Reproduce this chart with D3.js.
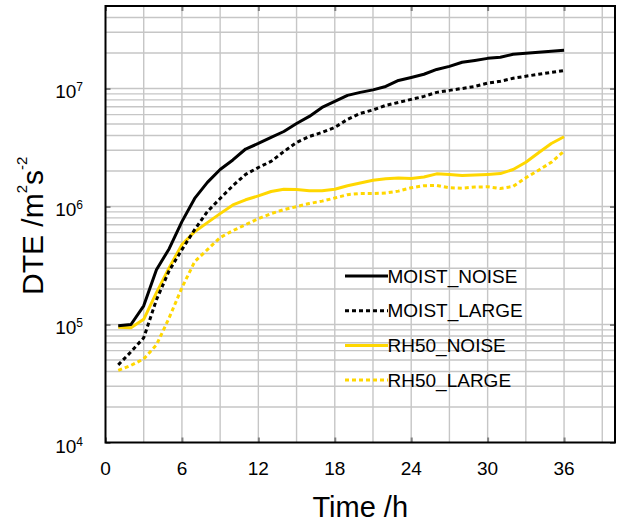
<!DOCTYPE html>
<html lang="en">
<head>
<meta charset="UTF-8">
<title>DTE</title>
<script src="https://d3js.org/d3.v7.min.js"></script>
<style>
    body { margin: 0; background: #ffffff; }
    svg { display: block; font-family: "Liberation Sans", Arial, Helvetica, sans-serif; }
    .grid line { stroke: #c6c6c6; stroke-width: 1.4; }
    .ticks line { stroke: #808080; stroke-width: 2; }
    .ticks .domain { display: none; }
</style>
</head>
<body>
<svg width="618" height="522"></svg>
<script>
var hours = [1, 2, 3, 4, 5, 6, 7, 8, 9, 10, 11, 12, 13, 14, 15, 16, 17, 18,
             19, 20, 21, 22, 23, 24, 25, 26, 27, 28, 29, 30, 31, 32, 33, 34, 35, 36];

var moistNoise = [9.75e4, 1.0e5, 1.44e5, 2.91e5, 4.39e5, 7.44e5, 1.17e6, 1.60e6, 2.06e6, 2.48e6,
                  3.07e6, 3.42e6, 3.85e6, 4.32e6, 5.05e6, 5.80e6, 6.91e6, 7.77e6, 8.74e6, 9.27e6,
                  9.73e6, 1.04e7, 1.17e7, 1.24e7, 1.32e7, 1.45e7, 1.54e7, 1.67e7, 1.73e7, 1.80e7,
                  1.84e7, 1.95e7, 1.99e7, 2.03e7, 2.07e7, 2.11e7];
var moistLarge = [4.55e4, 5.87e4, 7.71e4, 1.62e5, 2.86e5, 4.31e5, 6.37e5, 9.05e5, 1.17e6, 1.50e6,
                  1.87e6, 2.14e6, 2.41e6, 2.92e6, 3.49e6, 3.92e6, 4.24e6, 4.68e6, 5.47e6, 6.15e6,
                  6.58e6, 7.19e6, 7.62e6, 8.08e6, 8.57e6, 9.27e6, 9.64e6, 1.00e7, 1.04e7, 1.11e7,
                  1.15e7, 1.22e7, 1.27e7, 1.32e7, 1.37e7, 1.42e7];
var rh50Noise = [9.47e4, 9.38e4, 1.107e5, 1.86e5, 3.03e5, 4.75e5, 6.12e5, 7.30e5, 8.70e5, 1.03e6,
                 1.14e6, 1.23e6, 1.34e6, 1.40e6, 1.39e6, 1.36e6, 1.36e6, 1.40e6, 1.50e6, 1.58e6,
                 1.67e6, 1.72e6, 1.74e6, 1.73e6, 1.78e6, 1.89e6, 1.87e6, 1.83e6, 1.85e6, 1.87e6,
                 1.90e6, 2.06e6, 2.37e6, 2.85e6, 3.42e6, 3.90e6];
var rh50Large = [4.09e4, 4.50e4, 5.11e4, 6.72e4, 1.14e5, 2.05e5, 3.41e5, 4.31e5, 5.45e5, 6.24e5,
                 7.02e5, 7.89e5, 8.70e5, 9.41e5, 9.98e5, 1.06e6, 1.11e6, 1.18e6, 1.26e6, 1.29e6,
                 1.29e6, 1.30e6, 1.35e6, 1.44e6, 1.50e6, 1.51e6, 1.44e6, 1.43e6, 1.46e6, 1.47e6,
                 1.42e6, 1.48e6, 1.75e6, 2.03e6, 2.37e6, 2.94e6];

var xTicks = [0, 6, 12, 18, 24, 30, 36];
var xGrid = [3, 6, 9, 12, 15, 18, 21, 24, 27, 30, 33, 36, 39];
var yExponents = [4, 5, 6, 7];

var series = [
    { name: "RH50_LARGE", values: rh50Large, color: "#ffd700", dash: "4,3" },
    { name: "RH50_NOISE", values: rh50Noise, color: "#ffd700", dash: null },
    { name: "MOIST_LARGE", values: moistLarge, color: "#000000", dash: "4,3" },
    { name: "MOIST_NOISE", values: moistNoise, color: "#000000", dash: null }
];
var legendOrder = ["MOIST_NOISE", "MOIST_LARGE", "RH50_NOISE", "RH50_LARGE"];

var svg = d3.select("svg");
var margin = { top: 6, right: 3, bottom: 79.5, left: 105.5 };
var width = 618 - margin.left - margin.right;
var height = 522 - margin.top - margin.bottom;

var xScale = d3.scaleLinear().domain([0, 40]).range([0, width]);
var yScale = d3.scaleLog().domain([1e4, 5e7]).range([height, 0]);

var g = svg.append("g")
    .attr("transform", "translate(" + margin.left + "," + margin.top + ")");

// grid
g.append("g").attr("class", "grid").selectAll("line")
    .data(xGrid)
    .enter().append("line")
    .attr("x1", function (d) { return xScale(d); })
    .attr("x2", function (d) { return xScale(d); })
    .attr("y1", 0)
    .attr("y2", height);

g.append("g").attr("class", "grid").selectAll("line")
    .data(yScale.ticks().filter(function (d) { return d > 1e4 && d < 5e7; }))
    .enter().append("line")
    .attr("x1", 0)
    .attr("x2", width)
    .attr("y1", function (d) { return yScale(d); })
    .attr("y2", function (d) { return yScale(d); });

// curves
var line = d3.line()
    .x(function (d, i) { return xScale(hours[i]); })
    .y(function (d) { return yScale(d); });

series.forEach(function (s) {
    g.append("path")
        .attr("d", line(s.values))
        .attr("fill", "none")
        .attr("stroke", s.color)
        .attr("stroke-width", 3)
        .attr("stroke-linejoin", "round")
        .attr("stroke-dasharray", s.dash);
});

// inner tick marks
var majors = yExponents.map(function (e) { return Math.pow(10, e); });
g.append("g").attr("class", "ticks")
    .call(d3.axisLeft(yScale).tickValues(majors).tickSizeInner(-5).tickSizeOuter(0).tickFormat(""));
g.append("g").attr("class", "ticks")
    .attr("transform", "translate(" + width + ",0)")
    .call(d3.axisRight(yScale).tickValues(majors).tickSizeInner(-5).tickSizeOuter(0).tickFormat(""));
g.append("g").attr("class", "ticks")
    .attr("transform", "translate(0," + height + ")")
    .call(d3.axisBottom(xScale).tickValues(xTicks).tickSizeInner(-5).tickSizeOuter(0).tickFormat(""));
g.append("g").attr("class", "ticks")
    .call(d3.axisTop(xScale).tickValues(xTicks).tickSizeInner(-5).tickSizeOuter(0).tickFormat(""));

// frame
g.append("rect")
    .attr("width", width)
    .attr("height", height)
    .attr("fill", "none")
    .attr("stroke", "#000000")
    .attr("stroke-width", 2);

// tick labels
var yLab = g.selectAll("text.ylab")
    .data(yExponents)
    .enter().append("text")
    .attr("class", "ylab")
    .attr("x", -22.5)
    .attr("y", function (d) { return yScale(Math.pow(10, d)) + 10; })
    .attr("text-anchor", "end")
    .style("font-size", "19px")
    .text("10");
yLab.append("tspan")
    .attr("dy", -7)
    .style("font-size", "12px")
    .text(function (d) { return d; });

g.selectAll("text.xlab")
    .data(xTicks)
    .enter().append("text")
    .attr("class", "xlab")
    .attr("x", function (d) { return xScale(d); })
    .attr("y", height + 32.5)
    .attr("text-anchor", "middle")
    .style("font-size", "19px")
    .text(function (d) { return d; });

// axis titles
svg.append("text")
    .attr("x", margin.left + width / 2)
    .attr("y", 517)
    .attr("text-anchor", "middle")
    .style("font-size", "29px")
    .text("Time /h");

var yTitle = svg.append("text")
    .attr("transform", "translate(43,295) rotate(-90)")
    .style("font-size", "30px");
yTitle.append("tspan").text("DTE /m");
yTitle.append("tspan").attr("dy", -16).style("font-size", "15px").text("2");
yTitle.append("tspan").attr("dy", 16).text("s");
yTitle.append("tspan").attr("dy", -16).style("font-size", "15px").text("-2");

// legend
var legend = g.append("g")
    .attr("transform", "translate(" + (345 - margin.left) + "," + (276 - margin.top) + ")");

legendOrder.forEach(function (name, i) {
    var s = series.find(function (d) { return d.name === name; });
    var row = legend.append("g").attr("transform", "translate(0," + (i * 34.7) + ")");
    row.append("line")
        .attr("x1", 0).attr("x2", 43)
        .attr("y1", 0).attr("y2", 0)
        .attr("stroke", s.color)
        .attr("stroke-width", 3)
        .attr("stroke-dasharray", s.dash);
    row.append("text")
        .attr("x", 42.5)
        .attr("y", 6.7)
        .style("font-size", "19px")
        .text(s.name);
});
</script>
</body>
</html>
